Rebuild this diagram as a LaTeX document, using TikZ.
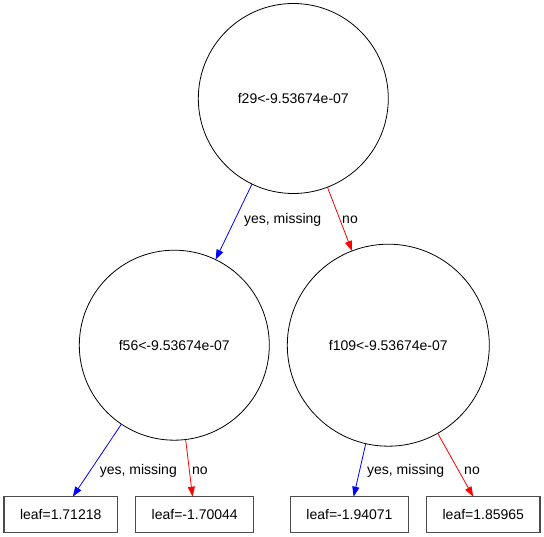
\documentclass[tikz,border=0pt]{standalone}
\usepackage{fontspec}
\setmainfont{Liberation Sans}
\usetikzlibrary{arrows.meta}
\begin{document}
\begin{tikzpicture}[x=1pt,y=-1pt,
  font=\fontsize{14}{16}\selectfont,
  splitnode/.style={circle,draw=black,line width=0.8pt,inner sep=0pt,outer sep=0pt,minimum size=#1},
  leafbox/.style={rectangle,draw=black!70,line width=1.2pt,inner xsep=16pt,inner ysep=0pt,minimum height=36pt,outer sep=0pt},
  yesedge/.style={draw=blue,line width=0.8pt,-{Triangle[length=10pt,width=7pt]}},
  noedge/.style={draw=red,line width=0.8pt,-{Triangle[length=10pt,width=7pt]}},
  elabel/.style={anchor=base,inner sep=0pt}]
\fill[white] (0,0) rectangle (544,537);
\useasboundingbox (0,0) rectangle (544,537);
\node[splitnode=190pt] (root) at (293.3,98.5) {f29<-9.53674e-07};
\node[splitnode=190pt] (left) at (174.3,345.2) {f56<-9.53674e-07};
\node[splitnode=202pt] (right) at (388.3,345.2) {f109<-9.53674e-07};
\node[leafbox] (l1) at (60.7,514.7) {leaf=1.71218};
\node[leafbox] (l2) at (194.7,514.7) {leaf=-1.70044};
\node[leafbox] (l3) at (349.5,514.7) {leaf=-1.94071};
\node[leafbox] (l4) at (483.3,514.7) {leaf=1.85965};
\draw[yesedge] (root) -- (left);
\draw[noedge] (root) -- (right);
\draw[yesedge] (left) -- (l1);
\draw[noedge] (left) -- (l2);
\draw[yesedge] (right) -- (l3);
\draw[noedge] (right) -- (l4);
\node[elabel] (t1) at (282.7,223.3) {yes, missing};
\node[elabel] (t2) at (350,223.3) {no};
\node[elabel] (t3) at (138.3,475) {yes, missing};
\node[elabel] (t4) at (200,475) {no};
\node[elabel] (t5) at (405.7,475) {yes, missing};
\node[elabel] (t6) at (472,475) {no};
\end{tikzpicture}
\end{document}
